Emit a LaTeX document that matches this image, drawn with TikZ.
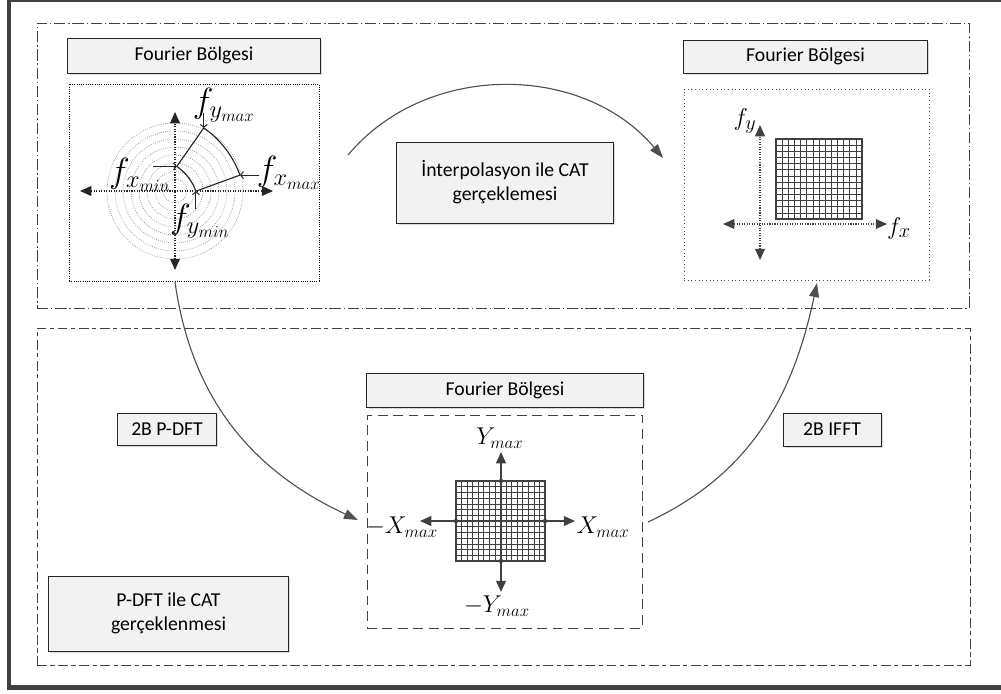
\documentclass[tikz,border=0pt]{standalone}
\usepackage{amsmath}
\usepackage{amssymb}
\usepackage{fontspec}
\setmainfont{Carlito}
\usetikzlibrary{arrows.meta,fit,shadows}
\definecolor{framegray}{HTML}{404040}
\definecolor{boxfill}{HTML}{F2F2F2}
\definecolor{flowgray}{HTML}{505050}

\begin{document}
\begin{tikzpicture}[x=0.025cm,y=0.025cm]
\tikzstyle{every node}+=[inner sep=0pt]
\tikzstyle{labelbox}=[draw=black!85,fill=boxfill,line width=0.7pt,
  drop shadow={shadow xshift=1.5pt,shadow yshift=-1.5pt,opacity=0.3},
  font=\fontsize{14}{17}\selectfont,align=center]
\tikzstyle{flow}=[draw=flowgray,line width=0.8pt,-{Triangle[length=10pt,width=7pt]}]
\tikzstyle{tlaxis}=[draw=black!85,line width=0.8pt,densely dotted,
  {Triangle[length=8pt,width=7pt]}-{Triangle[length=8pt,width=7pt]}]
\tikzstyle{traxis}=[draw=framegray,line width=0.8pt,densely dotted,
  {Triangle[length=8pt,width=7pt]}-{Triangle[length=8pt,width=7pt]}]
\tikzstyle{baxis}=[draw=framegray,line width=1.1pt,-{Triangle[length=8pt,width=7pt]}]
\tikzstyle{ptr}=[draw=black!85,line width=0.7pt,-{Straight Barb[length=2pt,width=5pt]}]
\tikzstyle{gridl}=[draw=framegray,line width=0.5pt]
\tikzstyle{bigmath}=[font=\fontsize{23}{27}\selectfont]
\tikzstyle{midmath}=[font=\fontsize{18}{22}\selectfont]
\tikzstyle{smallmath}=[font=\fontsize{19}{23}\selectfont]
\useasboundingbox (0,0) rectangle (1001,-693);
% outer frame
\draw [framegray,line width=0.11cm] (9,0) rectangle (1012,-687.5);
% regions
\node [fit={(37,-23) (969,-308)},draw=black!75,line width=0.7pt,
  dash pattern=on 8pt off 2pt on 1pt off 2pt] (interpreg) {};
\node [fit={(37,-328) (970,-665)},draw=black!75,line width=0.7pt,
  dash pattern=on 7pt off 2.5pt on 3pt off 2.5pt] (pdftreg) {};
% titles
\node [labelbox,minimum width=6.3cm,minimum height=0.875cm] (tltitle) at (194,-55.5) {Fourier Bölgesi};
\node [labelbox,minimum width=6.075cm,minimum height=0.825cm] (trtitle) at (805.5,-56.5) {Fourier Bölgesi};
\node [labelbox,minimum width=6.9cm,minimum height=0.85cm] (bctitle) at (505,-390) {Fourier Bölgesi};
% panels
\node [fit={(69,-84) (319,-281)},draw=black,line width=0.6pt,densely dotted] (tlpanel) {};
\node [fit={(684,-89) (929,-280)},draw=black!70,line width=0.6pt,dotted] (trpanel) {};
\node [fit={(367,-415) (642,-628)},draw=black!75,line width=0.7pt,
  dash pattern=on 7pt off 4pt] (bcpanel) {};
% text boxes
\node [labelbox,minimum width=5.4cm,minimum height=2.025cm] (interpbox) at (505,-182.5) {İnterpolasyon ile CAT\\gerçeklemesi};
\node [labelbox,minimum width=5.975cm,minimum height=1.875cm] (pdftbox) at (168.5,-613.5) {P-DFT ile CAT\\gerçeklenmesi};
\node [labelbox,minimum width=2.45cm,minimum height=0.8cm] (pdftlbl) at (167,-429) {2B P-DFT};
\node [labelbox,minimum width=2.45cm,minimum height=0.825cm] (ifftlbl) at (832,-429.5) {2B IFFT};
% top left: polar samples
\foreach \r in {12,20,...,68}
  \draw [black!45,densely dotted,line width=0.5pt] (175,-191) circle (\r);
\coordinate (tll) at (80,-191);
\coordinate (tlr) at (273,-191);
\coordinate (tlt) at (175,-112);
\coordinate (tlb) at (175,-270);
\draw [tlaxis] (tll) -- (tlr);
\draw [tlaxis] (tlb) -- (tlt);
\coordinate (in1) at (176.8,-166.4);
\coordinate (in2) at (195.9,-191.2);
\coordinate (out1) at (203.8,-127.9);
\coordinate (out2) at (240.0,-175.1);
\draw [black!85,line width=0.8pt] (in1) -- (out1);
\draw [black!85,line width=0.8pt] (in2) -- (out2);
\draw [black!85,line width=0.8pt] (in2) arc (20:55:52);
\draw [black!85,line width=0.8pt] (out2) arc (20:55:99);
\node [bigmath] (fymax) at (224,-105) {$f_{y_{max}}$};
\node [bigmath] (fxmax) at (289,-173) {$f_{x_{max}}$};
\node [bigmath] (fxmin) at (140,-175) {$f_{x_{min}}$};
\node [bigmath] (fymin) at (200,-221) {$f_{y_{min}}$};
\coordinate (p1) at (203.8,-113);
\coordinate (p2) at (259,-175.1);
\coordinate (p3) at (153,-166.4);
\coordinate (p4) at (195.9,-209);
\draw [ptr] (p1) -- (out1);
\draw [ptr] (p2) -- (out2);
\draw [ptr] (p3) -- (in1);
\draw [ptr] (p4) -- (in2);
% top right: cartesian grid
\foreach \i in {0,...,14}
  \draw [gridl] ({776+\i*86/14},-139) -- ({776+\i*86/14},-219);
\foreach \j in {0,...,13}
  \draw [gridl] (776,{-139-\j*80/13}) -- (862,{-139-\j*80/13});
\draw [framegray,line width=0.8pt] (776,-139) rectangle (862,-219);
\coordinate (trl) at (723,-224);
\coordinate (trr) at (887,-224);
\coordinate (trt) at (760,-125);
\coordinate (trb) at (760,-260);
\draw [traxis] (trl) -- (trr);
\draw [traxis] (trb) -- (trt);
\node [smallmath] (fyl) at (745,-121) {$f_y$};
\node [smallmath] (fxl) at (899,-228) {$f_x$};
% bottom centre: pseudo-polar grid
\foreach \i in {0,...,16}
  \draw [gridl] ({456+\i*89/16},-481) -- ({456+\i*89/16},-561);
\foreach \j in {0,...,14}
  \draw [gridl] (456,{-481-\j*80/14}) -- (545,{-481-\j*80/14});
\draw [framegray,line width=0.8pt] (456,-481) rectangle (545,-561);
\coordinate (bgn) at (501,-481);
\coordinate (bgs) at (501,-561);
\coordinate (bgw) at (456,-521);
\coordinate (bge) at (545,-521);
\draw [framegray,line width=1.1pt] (bgn) -- (bgs);
\draw [framegray,line width=1.1pt] (bgw) -- (bge);
\coordinate (bn) at (501,-452);
\coordinate (bs) at (501,-592);
\coordinate (bw) at (420,-521);
\coordinate (be) at (575,-521);
\draw [baxis] (bgn) -- (bn);
\draw [baxis] (bgs) -- (bs);
\draw [baxis] (bgw) -- (bw);
\draw [baxis] (bge) -- (be);
\foreach \p in {bgn,bgs,bgw,bge}
  \fill [framegray] (\p) circle (2.2);
\node [midmath] (ymaxl) at (500,-438) {$Y_{max}$};
\node [midmath] (nymaxl) at (497,-606) {$-Y_{max}$};
\node [midmath] (nxmaxl) at (402,-527) {$-X_{max}$};
\node [midmath] (xmaxl) at (603,-527) {$X_{max}$};
% transitions
\coordinate (c1s) at (348,-155);
\coordinate (c1e) at (663,-158);
\coordinate (c2s) at (175,-282);
\coordinate (c2e) at (358,-520);
\coordinate (c3s) at (648,-522);
\coordinate (c3e) at (817,-283);
\draw [flow] (c1s) to [out=50,in=130] (c1e);
\draw [flow] (c2s) to [out=-82,in=155] (c2e);
\draw [flow] (c3s) to [out=25,in=-102] (c3e);
\end{tikzpicture}
\end{document}
